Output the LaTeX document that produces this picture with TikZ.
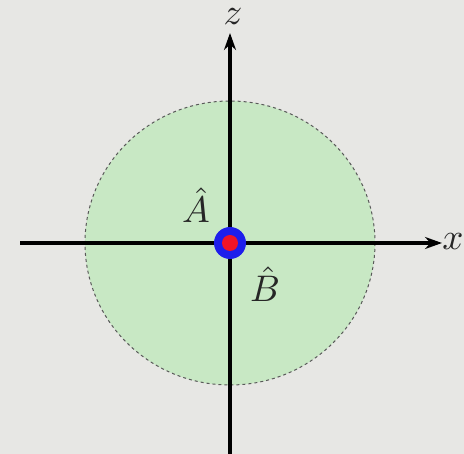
\documentclass[tikz,border=0pt]{standalone}
\usetikzlibrary{arrows.meta}
\definecolor{bg}{RGB}{231,231,228}
\definecolor{lg}{RGB}{200,232,196}
\definecolor{dotblue}{RGB}{30,30,235}
\definecolor{dotred}{RGB}{240,20,40}
\tikzset{
  axis/.style={line width=3.5pt,-{Stealth[length=17pt,width=12pt]}},
  lbl/.style={scale=3.7,inner sep=0pt,text=black!85}
}
\begin{document}
\begin{tikzpicture}[x=1pt,y=-1pt]
\fill[bg] (0,0) rectangle (464,454);
\useasboundingbox (0,0) rectangle (464,454);
\coordinate (o) at (230,243);
\fill[lg] (o) ellipse [x radius=145, y radius=142];
\draw[line width=1pt,gray!70!black,dash pattern=on 3pt off 3pt] (o) ellipse [x radius=145, y radius=142];
\coordinate (xs) at (20,243);
\coordinate (xe) at (442,243);
\coordinate (zs) at (230,458);
\coordinate (ze) at (230,33);
\draw[axis] (xs) -- (xe);
\draw[axis] (zs) -- (ze);
\node[lbl] (xl) at (453,242) {$x$};
\node[lbl] (zl) at (233,17) {$z$};
\node[lbl] (al) at (196,205) {$\hat{A}$};
\node[lbl] (bl) at (265,284) {$\hat{B}$};
\fill[dotblue] (o) circle (16);
\fill[dotred] (o) circle (8);
\end{tikzpicture}
\end{document}
